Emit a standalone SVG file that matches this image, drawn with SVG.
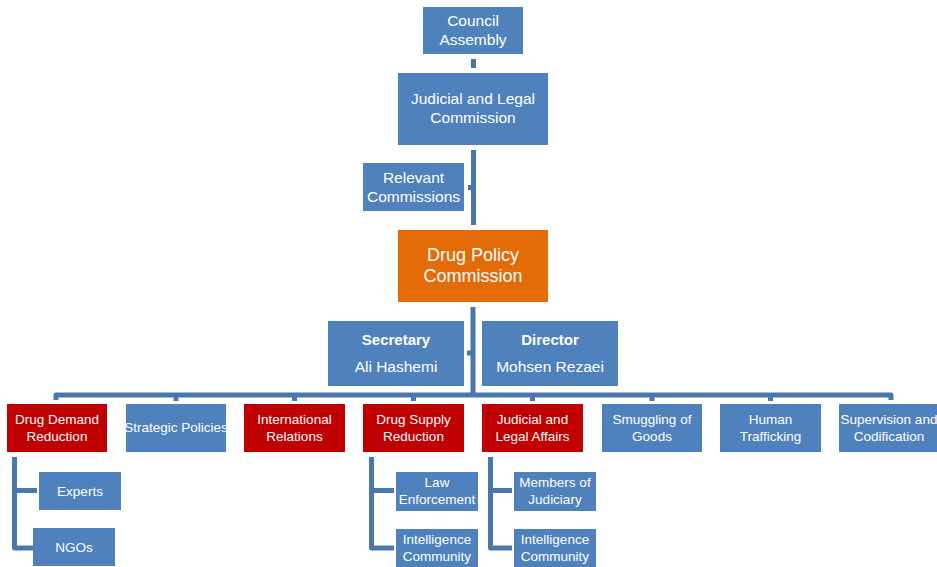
<svg xmlns="http://www.w3.org/2000/svg" width="937" height="567" viewBox="0 0 937 567">
<style>
.bl{fill:#4F81BD}
.rd{fill:#C00000}
.or{fill:#E36C09}
text{fill:#fff;font-family:"Liberation Sans",Arial,sans-serif;text-anchor:middle}
.t15{font-size:15.5px}
.t18{font-size:18px}
.t13{font-size:13.5px}
.b{font-weight:bold;font-size:15px}
.c{fill:none;stroke:#4A76AE;stroke-width:5;stroke-linejoin:round}
</style>
<rect width="937" height="567" fill="#fff"/>
<g id="connectors">
<line class="c" x1="473.5" y1="59" x2="473.5" y2="68"/>
<line class="c" x1="473.5" y1="150" x2="473.5" y2="225"/>
<line class="c" x1="468" y1="187.5" x2="472" y2="187.5" stroke-width="3"/>
<line class="c" x1="473" y1="307" x2="473" y2="395"/>
<line class="c" x1="467" y1="353" x2="472" y2="353" stroke-width="4"/>
<path class="c" d="M56,400 V395 H891 V400"/>
<path class="c" d="M176,395 V401 M294.5,395 V401 M413.5,395 V401 M532.5,395 V401 M652,395 V401 M770.5,395 V401"/>
<path class="c" d="M14.5,457 V548 H33 M14.5,490.5 H37"/>
<path class="c" d="M371.5,457 V548 H394 M371.5,490.5 H394"/>
<path class="c" d="M490.5,457 V548 H512 M490.5,490.5 H512"/>
</g>
<g id="council">
<rect class="bl" x="423" y="7" width="100" height="47"/>
<text class="t15" x="473" y="26">Council</text>
<text class="t15" x="473" y="45">Assembly</text>
</g>
<g id="judicial-commission">
<rect class="bl" x="398" y="73" width="150" height="72"/>
<text class="t15" x="473" y="104">Judicial and Legal</text>
<text class="t15" x="473" y="123">Commission</text>
</g>
<g id="relevant">
<rect class="bl" x="363" y="163" width="101" height="48"/>
<text class="t15" x="413.5" y="183">Relevant</text>
<text class="t15" x="413.5" y="202">Commissions</text>
</g>
<g id="drug-policy">
<rect class="or" x="398" y="230" width="150" height="72"/>
<text class="t18" x="473" y="261">Drug Policy</text>
<text class="t18" x="473" y="282">Commission</text>
</g>
<g id="secretary">
<rect class="bl" x="328" y="321" width="136" height="65"/>
<text class="b" x="396" y="345">Secretary</text>
<text class="t15" x="396" y="372">Ali Hashemi</text>
</g>
<g id="director">
<rect class="bl" x="482" y="321" width="136" height="65"/>
<text class="b" x="550" y="345">Director</text>
<text class="t15" x="550" y="372">Mohsen Rezaei</text>
</g>
<g id="demand">
<rect class="rd" x="7" y="404" width="100" height="48"/>
<text class="t13" x="57" y="424">Drug Demand</text>
<text class="t13" x="57" y="441">Reduction</text>
</g>
<g id="strategic">
<rect class="bl" x="126" y="404" width="100" height="48"/>
<text class="t13" x="176" y="432">Strategic Policies</text>
</g>
<g id="international">
<rect class="rd" x="244" y="404" width="101" height="48"/>
<text class="t13" x="294.5" y="424">International</text>
<text class="t13" x="294.5" y="441">Relations</text>
</g>
<g id="supply">
<rect class="rd" x="363" y="404" width="101" height="48"/>
<text class="t13" x="413.5" y="424">Drug Supply</text>
<text class="t13" x="413.5" y="441">Reduction</text>
</g>
<g id="legal-affairs">
<rect class="rd" x="482" y="404" width="101" height="48"/>
<text class="t13" x="532.5" y="424">Judicial and</text>
<text class="t13" x="532.5" y="441">Legal Affairs</text>
</g>
<g id="smuggling">
<rect class="bl" x="602" y="404" width="100" height="48"/>
<text class="t13" x="652" y="424">Smuggling of</text>
<text class="t13" x="652" y="441">Goods</text>
</g>
<g id="trafficking">
<rect class="bl" x="720" y="404" width="101" height="48"/>
<text class="t13" x="770.5" y="424">Human</text>
<text class="t13" x="770.5" y="441">Trafficking</text>
</g>
<g id="supervision">
<rect class="bl" x="839" y="404" width="100" height="48"/>
<text class="t13" x="889" y="424">Supervision and</text>
<text class="t13" x="889" y="441">Codification</text>
</g>
<g id="experts">
<rect class="bl" x="39" y="472" width="82" height="38"/>
<text class="t13" x="80" y="496">Experts</text>
</g>
<g id="ngos">
<rect class="bl" x="33" y="528" width="82" height="38"/>
<text class="t13" x="74" y="552">NGOs</text>
</g>
<g id="law-enforcement">
<rect class="bl" x="396" y="472" width="82" height="39"/>
<text class="t13" x="437" y="487">Law</text>
<text class="t13" x="437" y="504">Enforcement</text>
</g>
<g id="intel-1">
<rect class="bl" x="396" y="529" width="82" height="38"/>
<text class="t13" x="437" y="544">Intelligence</text>
<text class="t13" x="437" y="561">Community</text>
</g>
<g id="judiciary">
<rect class="bl" x="514" y="472" width="82" height="39"/>
<text class="t13" x="555" y="487">Members of</text>
<text class="t13" x="555" y="504">Judiciary</text>
</g>
<g id="intel-2">
<rect class="bl" x="514" y="529" width="82" height="38"/>
<text class="t13" x="555" y="544">Intelligence</text>
<text class="t13" x="555" y="561">Community</text>
</g>
</svg>
